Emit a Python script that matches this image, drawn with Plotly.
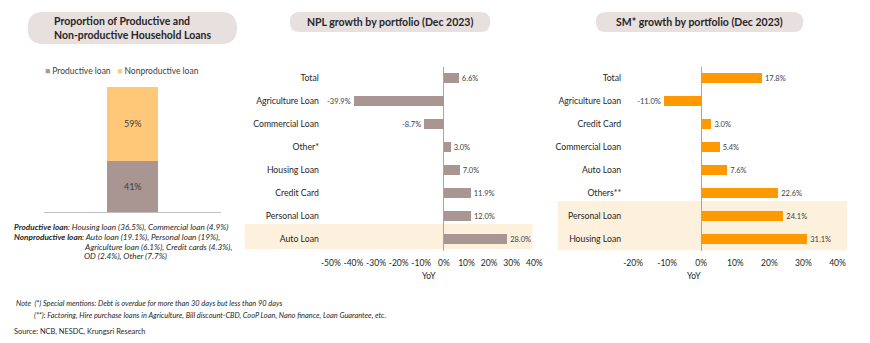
import plotly.graph_objects as go

W, H = 870, 343
FONT = "Lato"

# ---------------- data ----------------
share_labels = ["Productive loan", "Nonproductive loan"]
share_values = [41, 59]

npl_categories = ["Total", "Agriculture Loan", "Commercial Loan", "Other*",
                  "Housing Loan", "Credit Card", "Personal Loan", "Auto Loan"]
npl_values = [6.6, -39.9, -8.7, 3.0, 7.0, 11.9, 12.0, 28.0]

sm_categories = ["Total", "Agriculture Loan", "Credit Card", "Commercial Loan",
                 "Auto Loan", "Others**", "Personal Loan", "Housing Loan"]
sm_values = [17.8, -11.0, 3.0, 5.4, 7.6, 22.6, 24.1, 31.1]

npl_ticks = [-50, -40, -30, -20, -10, 0, 10, 20, 30, 40]
sm_ticks = [-20, -10, 0, 10, 20, 30, 40]

# ---------------- styles ----------------
C_PROD = "#a99591"
C_NONPROD = "#fec878"
C_ORANGE = "#ff9900"
C_PILL = "#e8dfdf"
C_BAND = "#fdf0dc"
C_TEXT = "#262626"


def px(x):
    return x / W


def py(y):
    return 1 - y / H


fig = go.Figure()

# Left stacked bar
for lab, val, col in zip(share_labels, share_values, [C_PROD, C_NONPROD]):
    fig.add_trace(go.Bar(
        x=[0], y=[val], name=lab, marker=dict(color=col, line=dict(width=0)),
        width=0.575, text=[f"{val}%"], textposition="inside",
        insidetextanchor="middle", textfont=dict(size=9, color="#404040", family=FONT),
        xaxis="x", yaxis="y", showlegend=False, hoverinfo="skip"))

lbl_font = dict(size=7.5, color="#404040", family=FONT)

# NPL bars
fig.add_trace(go.Bar(
    x=npl_values, y=npl_categories, orientation="h",
    marker=dict(color=C_PROD, line=dict(width=0)),
    text=[f"{v:.1f}%" for v in npl_values], textposition="outside",
    textfont=lbl_font, cliponaxis=False,
    xaxis="x2", yaxis="y2", showlegend=False, hoverinfo="skip"))

# SM bars
fig.add_trace(go.Bar(
    x=sm_values, y=sm_categories, orientation="h",
    marker=dict(color=C_ORANGE, line=dict(width=0)),
    text=[f"{v:.1f}%" for v in sm_values], textposition="outside",
    textfont=lbl_font, cliponaxis=False,
    xaxis="x3", yaxis="y3", showlegend=False, hoverinfo="skip"))

ydom = [py(250.5), py(66.5)]
cat_font = dict(size=8.7, color=C_TEXT, family=FONT)
tick_font = dict(size=8.5, color=C_TEXT, family=FONT)

fig.update_layout(
    width=W, height=H, margin=dict(l=0, r=0, t=0, b=0),
    paper_bgcolor="white", plot_bgcolor="rgba(0,0,0,0)",
    barmode="stack", bargap=0.57, showlegend=False,
    font=dict(family=FONT, color=C_TEXT),
    xaxis=dict(domain=[px(35), px(216)], range=[-1, 1], showticklabels=False,
               showgrid=False, zeroline=False, showline=True, linecolor="#bfbfbf",
               linewidth=1, fixedrange=True),
    yaxis=dict(domain=[py(212), py(87)], range=[0, 100], showticklabels=False,
               showgrid=False, zeroline=False, showline=False),
    xaxis2=dict(domain=[px(328), px(536)], range=[-50, 40], tickvals=npl_ticks,
                ticktext=[f"{t}%" for t in npl_ticks], showgrid=False,
                zeroline=True, zerolinecolor="#a6a6a6", zerolinewidth=1,
                showline=False, ticks="", tickfont=tick_font, anchor="y2",
                tickangle=0, ticklabelstandoff=6),
    yaxis2=dict(domain=ydom, categoryorder="array", categoryarray=npl_categories,
                autorange="reversed", showgrid=False, zeroline=False, showline=False,
                ticks="", tickfont=cat_font, anchor="x2", ticklabelstandoff=11),
    xaxis3=dict(domain=[px(637), px(846)], range=[-20, 40], tickvals=sm_ticks,
                ticktext=[f"{t}%" for t in sm_ticks], showgrid=False,
                zeroline=True, zerolinecolor="#a6a6a6", zerolinewidth=1,
                showline=False, ticks="", tickfont=tick_font, anchor="y3",
                tickangle=0, ticklabelstandoff=6),
    yaxis3=dict(domain=ydom, categoryorder="array", categoryarray=sm_categories,
                autorange="reversed", showgrid=False, zeroline=False, showline=False,
                ticks="", tickfont=cat_font, anchor="x3", ticklabelstandoff=11),
)


def pill(x0, y0, x1, y1):
    r = (y1 - y0) / 2
    pts = [
        f"M {px(x0 + r)},{py(y0)}",
        f"L {px(x1 - r)},{py(y0)}",
        f"Q {px(x1)},{py(y0)} {px(x1)},{py(y0 + r)}",
        f"Q {px(x1)},{py(y1)} {px(x1 - r)},{py(y1)}",
        f"L {px(x0 + r)},{py(y1)}",
        f"Q {px(x0)},{py(y1)} {px(x0)},{py(y0 + r)}",
        f"Q {px(x0)},{py(y0)} {px(x0 + r)},{py(y0)}",
        "Z",
    ]
    return dict(type="path", xref="paper", yref="paper", path=" ".join(pts),
                fillcolor=C_PILL, line=dict(width=0), layer="below")


shapes = [
    pill(18, 12, 232, 44),
    pill(286, 12, 491, 32),
    pill(599, 12, 811, 32),
    # highlight bands
    dict(type="rect", xref="paper", yref="y2", x0=px(240), x1=px(534),
         y0=6.35, y1=7.45, fillcolor=C_BAND, line=dict(width=0), layer="below"),
    dict(type="rect", xref="paper", yref="y3", x0=px(560), x1=px(856),
         y0=5.35, y1=7.5, fillcolor=C_BAND, line=dict(width=0), layer="below"),
]
fig.update_layout(shapes=shapes)


def ann(x, y, text, size=9, xanchor="center", color=C_TEXT):
    return dict(xref="paper", yref="paper", x=px(x), y=py(y), text=text,
                showarrow=False, xanchor=xanchor, yanchor="middle",
                font=dict(size=size, color=color, family=FONT), align="left")


annotations = [
    ann(125, 28, "<b>Proportion of Productive and<br>Non-productive Household Loans</b>", size=10.5),
    ann(388, 22, "<b>NPL growth by portfolio (Dec 2023)</b>", size=10.5),
    ann(705, 22, "<b>SM* growth by portfolio (Dec 2023)</b>", size=10.5),
    ann(34, 71, f"<span style='color:{C_PROD}'>■</span> {share_labels[0]}   "
                f"<span style='color:{C_NONPROD}'>■</span> {share_labels[1]}",
        size=8.5, xanchor="left", color="#404040"),
    ann(2, 227, "<b><i>Productive loan</i></b><i>: Housing loan (36.5%), Commercial loan (4.9%)</i>",
        size=8.2, xanchor="left"),
    ann(2, 237, "<b><i>Nonproductive loan</i></b><i>: Auto loan (19.1%), Personal loan (19%),</i>",
        size=8.2, xanchor="left"),
    ann(74, 247, "<i>Agriculture loan (6.1%), Credit cards (4.3%),</i>", size=8.2, xanchor="left"),
    ann(74, 256, "<i>OD (2.4%), Other (7.7%)</i>", size=8.2, xanchor="left"),
    ann(428, 276, "YoY", size=8.5),
    ann(699, 276, "YoY", size=8.5),
    ann(4, 303, "<i>Note  (*) Special mentions: Debt is overdue for more than 30 days but less than 90 days</i>",
        size=7.4, xanchor="left"),
    ann(23, 315, "<i>(**): Factoring, Hire purchase loans in Agriculture, Bill discount-CBD, CooP Loan, Nano finance, Loan Guarantee, etc.</i>",
        size=7.4, xanchor="left"),
    ann(2, 331, "Source: NCB, NESDC, Krungsri Research", size=7.4, xanchor="left"),
]
fig.update_layout(annotations=annotations)

fig.write_html("out.html")
